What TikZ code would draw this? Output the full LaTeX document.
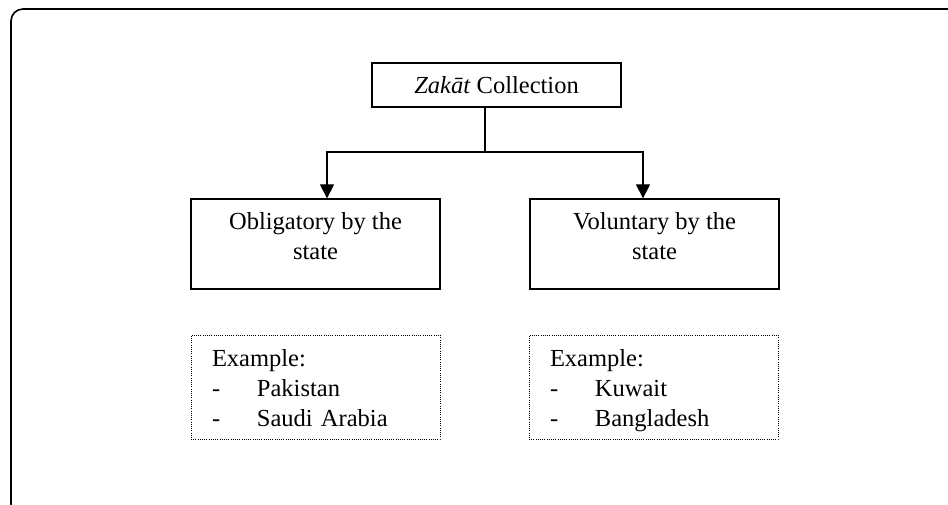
\documentclass[tikz,border=0pt]{standalone}
\usepackage{fontspec}
\setmainfont{Liberation Serif}
\usetikzlibrary{arrows.meta}
\newcommand{\lowpad}{\rule[-21pt]{0pt}{1pt}}
\newcommand{\highpad}{\rule{0pt}{27pt}}
\begin{document}
\begin{tikzpicture}[x=1pt,y=-1pt,
  every node/.style={font=\fontsize{24.5}{30}\selectfont},
  solidbox/.style={draw, line width=1.3pt, minimum width=249pt, align=center, inner sep=0pt},
  examplebox/.style={draw, line width=0.9pt, dash pattern=on 0.9pt off 1.3pt, minimum width=249pt, minimum height=104pt, text width=207pt, align=left, inner xsep=21pt, inner ysep=0pt},
  conn/.style={line width=1.3pt},
  arr/.style={conn, -{Triangle[length=14pt,width=14pt]}}]
\useasboundingbox (0,0) rectangle (948,505);
\begin{scope}
  \clip (0,0) rectangle (948,505);
  \draw[line width=1.6pt, rounded corners=12pt] (11,9) rectangle (964,516);
\end{scope}
\node[solidbox, minimum height=44pt] (top) at (496.5,85) {\highpad\strut\textit{Zakāt} Collection};
\node[solidbox, minimum height=90pt] (obl) at (315.5,244) {\strut Obligatory by the\\\strut state\lowpad};
\node[solidbox, minimum height=90pt] (vol) at (654.5,244) {\strut Voluntary by the\\\strut state\lowpad};
\node[examplebox] (exl) at (315.5,387) {\highpad Example:\\\strut\makebox[45pt][l]{-}Pakistan\\\strut\makebox[45pt][l]{-}Saudi Arabia};
\node[examplebox] (exr) at (653.5,387) {\highpad Example:\\\strut\makebox[45pt][l]{-}Kuwait\\\strut\makebox[45pt][l]{-}Bangladesh};
\coordinate (j) at (485,152);
\draw[conn] ([xshift=-11.5pt]top.south) -- (j);
\draw[arr] (j) -| ([xshift=11.5pt]obl.north);
\draw[arr] (j) -| ([xshift=-11.5pt]vol.north);
\end{tikzpicture}
\end{document}
